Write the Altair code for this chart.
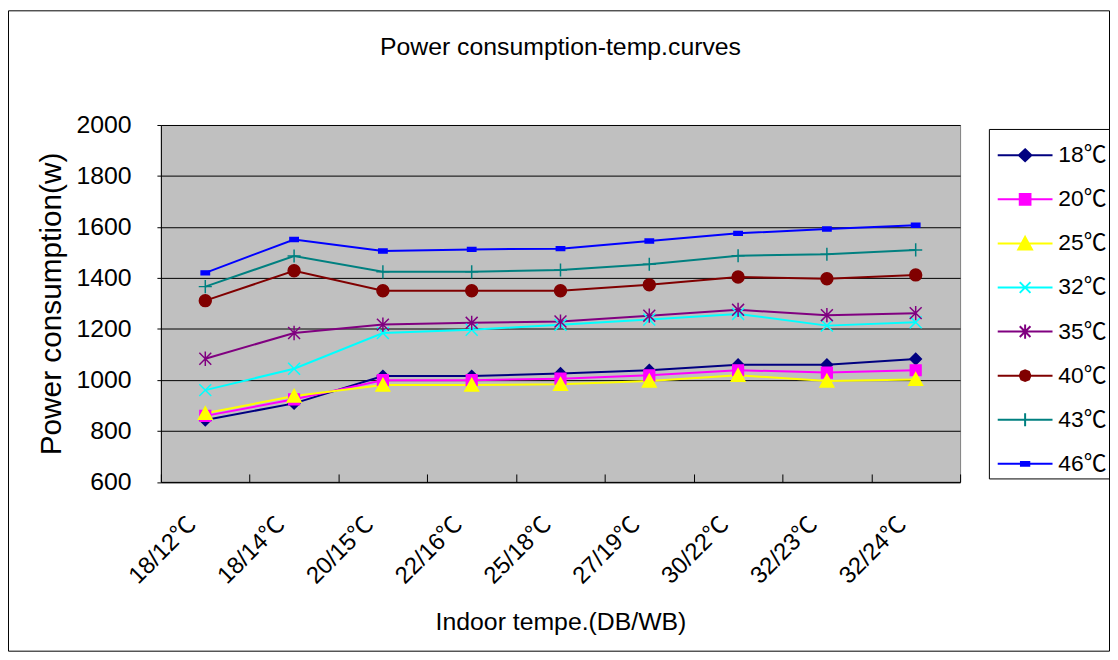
import altair as alt
import pandas as pd

categories = ["18/12℃", "18/14℃", "20/15℃", "22/16℃", "25/18℃",
              "27/19℃", "30/22℃", "32/23℃", "32/24℃"]
series_names = ["18℃", "20℃", "25℃", "32℃", "35℃", "40℃", "43℃", "46℃"]

s18 = [843, 908, 1015, 1015, 1025, 1038, 1060, 1060, 1082]
s20 = [859, 924, 999, 999, 1005, 1018, 1038, 1029, 1038]
s25 = [869, 937, 980, 980, 983, 996, 1018, 996, 1002]
s32 = [960, 1044, 1184, 1197, 1216, 1237, 1259, 1213, 1226]
s35 = [1083, 1184, 1217, 1224, 1229, 1252, 1275, 1254, 1262]
s40 = [1311, 1428, 1350, 1350, 1350, 1373, 1404, 1397, 1412]
s43 = [1366, 1486, 1424, 1424, 1431, 1454, 1487, 1493, 1510]
s46 = [1420, 1551, 1506, 1512, 1515, 1545, 1575, 1592, 1607]
series_values = [s18, s20, s25, s32, s35, s40, s43, s46]

colors = ["#000080", "#FF00FF", "#FFFF00", "#00FFFF",
          "#800080", "#800000", "#008080", "#0000FF"]

# marker shapes (unit paths, scaled by sqrt(size)/2)
plot_shapes = [
    "M0,-0.95L0.95,0L0,0.95L-0.95,0Z",
    "M-0.9,-0.9H0.9V0.9H-0.9Z",
    "M0,-1.1L1.15,1L-1.15,1Z",
    "M-1,-1L1,1M-1,1L1,-1",
    "M-1,-1L1,1M-1,1L1,-1M0,-1.2V1.2",
    "circle",
    "M-1.1,0H1.1M0,-1.1V1.1",
    "M-0.7,-0.33H0.7V0.33H-0.7Z",
]
line_part = "M-4.6,0H4.6"
legend_shapes = [
    line_part + "M0,-1L1.05,0L0,1L-1.05,0Z",
    line_part + "M-0.9,-0.9H0.9V0.9H-0.9Z",
    line_part + "M0,-1.1L1.15,1L-1.15,1Z",
    line_part + "M-0.9,-0.9L0.9,0.9M-0.9,0.9L0.9,-0.9",
    line_part + "M-0.9,-0.9L0.9,0.9M-0.9,0.9L0.9,-0.9M0,-1.2V1.2",
    line_part + "M-0.9,0L-0.64,-0.64L0,-0.9L0.64,-0.64L0.9,0L0.64,0.64L0,0.9L-0.64,0.64Z",
    line_part + "M0,-1.1V1.1",
    line_part + "M-0.7,-0.33H0.7V0.33H-0.7Z",
]

rows = []
for name, vals in zip(series_names, series_values):
    for cat, v in zip(categories, vals):
        rows.append({"cat": cat, "series": name, "value": v})
df = pd.DataFrame(rows)

FONT = "Liberation Sans, Arial, Noto Sans CJK SC"

W, H = 805, 359.5
PAD = {"left": 154, "top": 115.5, "right": 151, "bottom": 171}

xscale = alt.Scale(type="band", domain=categories, paddingInner=0, paddingOuter=0)
yscale = alt.Scale(domain=[600, 2000], nice=False, zero=False)

yaxis = alt.Axis(
    values=[600, 800, 1000, 1200, 1400, 1600, 1800, 2000], format="d",
    grid=True, gridColor="#000000", gridWidth=1, gridOpacity=1,
    domainColor="#000000", domainWidth=1,
    tickColor="#000000", tickSize=4, tickWidth=1,
    labelFontSize=25, labelFont=FONT, labelColor="#000000", labelPadding=26,
    title="Power consumption(w)", titleFontSize=30, titleFont=FONT,
    titleFontWeight="normal", titleColor="#000000",
    titleX=-101, titleBaseline="alphabetic",
)

y_enc = alt.Y("value:Q", scale=yscale, axis=yaxis)

tick_axis = alt.Axis(
    orient="bottom", offset=-8, tickBand="extent", tickSize=8,
    tickColor="#000000", tickWidth=1, labels=False, domain=False,
    grid=False, title="",
)
main_xaxis = alt.Axis(
    orient="bottom", grid=False, ticks=False,
    domainColor="#000000", domainWidth=1,
    labelAngle=-45, labelAlign="right", labelBaseline="middle",
    labelFontSize=24, labelFont=FONT, labelColor="#000000",
    labelPadding=39, labelOffset=-13,
    title="Indoor tempe.(DB/WB)", titleFontSize=25, titleFont=FONT,
    titleFontWeight="normal", titleColor="#000000",
    titleY=149, titleBaseline="alphabetic",
)

color_scale = alt.Scale(domain=series_names, range=colors)

lines = alt.Chart(df).mark_line(strokeWidth=2).encode(
    x=alt.X("cat:N", sort=categories, scale=xscale, axis=tick_axis),
    y=y_enc,
    color=alt.Color("series:N", scale=color_scale, legend=None),
)

points = alt.Chart(df).mark_point(filled=True, size=144, strokeWidth=1.5, opacity=1).encode(
    x=alt.X("cat:N", sort=categories, scale=xscale, axis=main_xaxis),
    y=y_enc,
    fill=alt.Fill("series:N", scale=color_scale, legend=None),
    stroke=alt.Stroke("series:N", scale=color_scale, legend=None),
    shape=alt.Shape("series:N", scale=alt.Scale(domain=series_names, range=plot_shapes), legend=None),
)

leg = alt.Legend(
    orient="none", legendX=834, legendY=4,
    title=" ", titleFontSize=13, titlePadding=0,
    fillColor="#FFFFFF", strokeColor="#000000", padding=2,
    rowPadding=20.4, labelFontSize=23, labelFont=FONT, labelColor="#000000",
    labelOffset=22, symbolOffset=23, symbolSize=144, symbolStrokeWidth=2,
    symbolOpacity=1, labelLimit=200,
)

legend_layer = alt.Chart(df).transform_filter("datum.value < 0").mark_point(
    filled=True, size=144, strokeWidth=2, opacity=1
).encode(
    fill=alt.Fill("series:N", scale=color_scale, legend=leg),
    stroke=alt.Stroke("series:N", scale=color_scale, legend=leg),
    shape=alt.Shape("series:N", scale=alt.Scale(domain=series_names, range=legend_shapes), legend=leg),
)

# chart-area frame (decorative border around the whole chart)
frame = alt.Chart(pd.DataFrame({"f": [0]})).mark_rect(
    fill="transparent", stroke="#000000", strokeWidth=1
).encode(
    x=alt.value(-PAD["left"] + 0.5), x2=alt.value(W + PAD["right"] - 0.5),
    y=alt.value(-PAD["top"] + 0.5), y2=alt.value(H + PAD["bottom"] - 0.5),
)

chart = alt.layer(frame, lines, points, legend_layer).resolve_scale(
    color="independent", fill="independent", stroke="independent", shape="independent"
).resolve_axis(x="independent").properties(
    width=W, height=H,
    padding=PAD,
    autosize=alt.AutoSizeParams(type="none"),
    background="#FFFFFF",
    view=alt.ViewBackground(fill="#C0C0C0", stroke="#808080", strokeWidth=1),
    title=alt.TitleParams("Power consumption-temp.curves", fontSize=25, font=FONT,
                          fontWeight="normal", color="#000000", anchor="middle",
                          frame="group", offset=-50),
).configure_view(fill="#C0C0C0", stroke="#808080", strokeWidth=1)

chart.save("out.html", embed_options={"renderer": "svg", "actions": False})
